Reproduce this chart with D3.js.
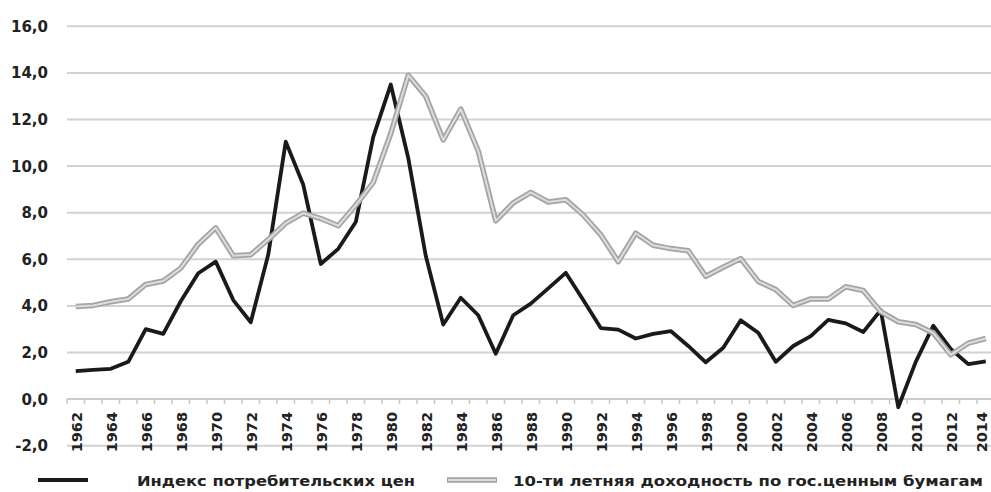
<!DOCTYPE html>
<html>
<head>
<meta charset="utf-8">
<script src="https://cdn.jsdelivr.net/npm/d3@7"></script>
<style>
  html, body { margin: 0; padding: 0; background: #fff; }
  svg { display: block; }
</style>
</head>
<body>
<svg id="chart" width="991" height="492"></svg>
<script>
// Years on the category axis
const years = d3.range(1962, 2015);

// Consumer price index, % per year
const cpi = [
  1.2, 1.25, 1.3, 1.6, 3.0, 2.8, 4.2, 5.4, 5.9, 4.25,
  3.3, 6.2, 11.05, 9.2, 5.8, 6.45, 7.6, 11.25, 13.5, 10.35,
  6.15, 3.2, 4.35, 3.6, 1.95, 3.6, 4.1, 4.75, 5.42, 4.25,
  3.05, 2.98, 2.6, 2.8, 2.92, 2.28, 1.58, 2.2, 3.38, 2.85,
  1.6, 2.28, 2.7, 3.4, 3.25, 2.88, 3.82, -0.35, 1.6, 3.15,
  2.15, 1.5, 1.62
];

// 10-year government bond yield, %
const yield10 = [
  3.97, 4.02, 4.18, 4.3, 4.92, 5.07, 5.62, 6.65, 7.35, 6.15,
  6.2, 6.85, 7.55, 7.98, 7.75, 7.44, 8.32, 9.3, 11.4, 13.9,
  13.0, 11.12, 12.45, 10.65, 7.65, 8.42, 8.87, 8.46, 8.56, 7.9,
  7.05, 5.9, 7.12, 6.6, 6.46, 6.37, 5.27, 5.66, 6.03, 5.05,
  4.7, 4.02, 4.3, 4.3, 4.82, 4.66, 3.75, 3.32, 3.2, 2.84,
  1.9, 2.4, 2.6
];

// Value axis ticks and year labels
const yTicks = d3.range(-2, 17, 2);
const yearLabels = years.filter(y => (y - 1962) % 2 === 0);

// Legend entries
const legendNames = ["Индекс потребительских цен", "10-ти летняя доходность по гос.ценным бумагам"];

const svg = d3.select("#chart");
const font = "'DejaVu Sans', Verdana, sans-serif";

const x = d3.scaleBand().domain(years).range([67, 67 + years.length * 17.5]).paddingInner(0).paddingOuter(0);
const y = d3.scaleLinear().domain([-2, 16]).range([445.7, 26.3]);
const cx = d => x(d) + x.bandwidth() / 2;
const fmt = v => d3.format(".1f")(v).replace(".", ",").replace("−", "-");

// Horizontal gridlines
svg.append("g").selectAll("line").data(yTicks).join("line")
  .attr("x1", x.range()[0]).attr("x2", x.range()[1])
  .attr("y1", d => y(d)).attr("y2", d => y(d))
  .attr("stroke", "#d2d2d2").attr("stroke-width", 2);

// Value labels
svg.append("g").selectAll("text").data(yTicks).join("text")
  .attr("x", 48).attr("y", d => y(d)).attr("dy", "0.36em")
  .attr("text-anchor", "end")
  .style("font-family", font).style("font-weight", "bold").style("font-size", "15px")
  .attr("fill", "#222")
  .text(fmt);

// Category axis at zero
const axisG = svg.append("g").attr("transform", `translate(0,${y(0)})`);
axisG.append("line")
  .attr("x1", x.range()[0]).attr("x2", x.range()[1])
  .attr("stroke", "#c8c8c8").attr("stroke-width", 1.5);
axisG.selectAll("line.tick").data(years.concat([2015])).join("line")
  .attr("class", "tick")
  .attr("x1", d => d === 2015 ? x.range()[1] : x(d))
  .attr("x2", d => d === 2015 ? x.range()[1] : x(d))
  .attr("y1", 0).attr("y2", 5)
  .attr("stroke", "#c8c8c8").attr("stroke-width", 1.5);

// Rotated year labels (kept inside the right edge of the drawing)
svg.append("g").selectAll("text").data(yearLabels).join("text")
  .attr("transform", d => `translate(${Math.min(cx(d) + 1.5, 982)},${412}) rotate(-90)`)
  .attr("text-anchor", "end").attr("dy", "0.36em")
  .style("font-family", font).style("font-weight", "bold").style("font-size", "14.5px")
  .attr("fill", "#222")
  .text(d => d);

const line = d3.line().x((d, i) => cx(years[i])).y(d => y(d));

// CPI series
svg.append("path").datum(cpi)
  .attr("d", line).attr("fill", "none")
  .attr("stroke", "#1a1a1a").attr("stroke-width", 3.8)
  .attr("stroke-linejoin", "round");

// Bond yield series: outlined light-grey line
const yg = svg.append("g");
yg.append("path").datum(yield10)
  .attr("d", line).attr("fill", "none")
  .attr("stroke", "#a4a4a4").attr("stroke-width", 5.5)
  .attr("stroke-linejoin", "round");
yg.append("path").datum(yield10)
  .attr("d", line).attr("fill", "none")
  .attr("stroke", "#dcdcdc").attr("stroke-width", 2)
  .attr("stroke-linejoin", "round");

// Legend
const legend = svg.append("g");
legend.append("line").attr("x1", 38).attr("x2", 88).attr("y1", 480).attr("y2", 480)
  .attr("stroke", "#1a1a1a").attr("stroke-width", 4);
legend.append("line").attr("x1", 447).attr("x2", 497).attr("y1", 480).attr("y2", 480)
  .attr("stroke", "#a4a4a4").attr("stroke-width", 5.5);
legend.append("line").attr("x1", 448).attr("x2", 496).attr("y1", 480).attr("y2", 480)
  .attr("stroke", "#dcdcdc").attr("stroke-width", 2);

const legendText = [
  { name: legendNames[0], x: 137, w: 278 },
  { name: legendNames[1], x: 513, w: 470 }
];
legend.selectAll("text").data(legendText).join("text")
  .attr("x", d => d.x).attr("y", 485.5)
  .attr("textLength", d => d.w).attr("lengthAdjust", "spacingAndGlyphs")
  .style("font-family", font).style("font-weight", "bold").style("font-size", "13.5px")
  .attr("fill", "#222")
  .text(d => d.name);
</script>
</body>
</html>
